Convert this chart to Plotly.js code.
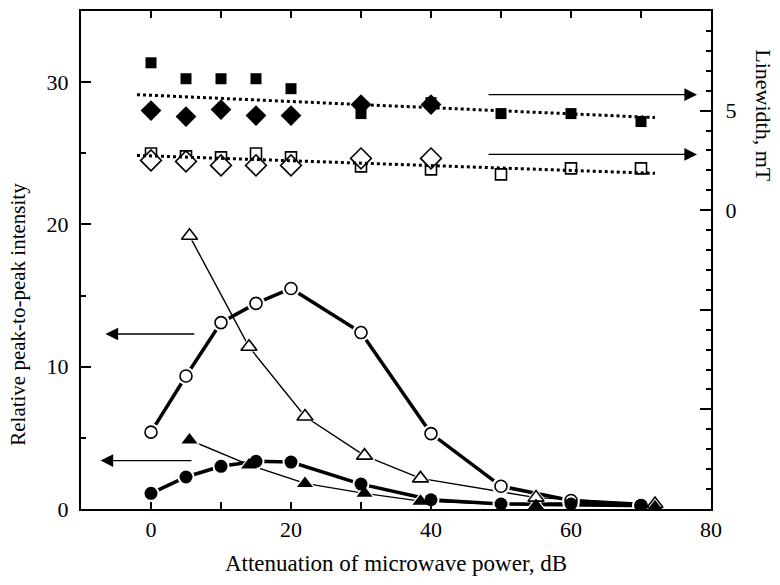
<!DOCTYPE html>
<html>
<head>
<meta charset="utf-8">
<script src="https://cdn.plot.ly/plotly-3.0.1.min.js"></script>
<style>html,body{margin:0;padding:0;background:#fff;}#chart{width:780px;height:585px;}</style>
</head>
<body>
<div id="chart"></div>
<script>
// ---- data (left axis: relative peak-to-peak intensity) ----
const xCircle = [0, 5, 10, 15, 20, 30, 40, 50, 60, 70];
const openCircle = [5.4, 9.35, 13.1, 14.45, 15.5, 12.4, 5.3, 1.6, 0.6, 0.25];
const filledCircle = [1.1, 2.25, 3.0, 3.35, 3.3, 1.75, 0.65, 0.35, 0.35, 0.25];
const xTriangle = [5.5, 14, 22, 30.5, 38.5, 55, 72];
const openTriangle = [19.2, 11.4, 6.5, 3.75, 2.15, 0.8, 0.35];
const filledTriangle = [4.85, 3.1, 1.8, 1.1, 0.55, 0.25, 0.15];
// ---- data (right axis: linewidth, mT) ----
const xSquare = [0, 5, 10, 15, 20, 30, 40, 50, 60, 70];
const filledSquare = [7.4, 6.6, 6.6, 6.6, 6.1, 4.85, 5.4, 4.85, 4.85, 4.45];
const openSquare = [2.85, 2.7, 2.65, 2.85, 2.65, 2.2, 2.05, 1.8, 2.1, 2.1];
const xDiamond = [0, 5, 10, 15, 20, 30, 40];
const filledDiamond = [5.0, 4.7, 5.05, 4.75, 4.75, 5.3, 5.3];
const openDiamond = [2.5, 2.45, 2.25, 2.25, 2.25, 2.6, 2.6];
const xFit = [-2, 72];
const fitUpper = [5.8, 4.65];
const fitLower = [2.75, 1.85];
// ---- axis ticks ----
const xTickVals = [0, 10, 20, 30, 40, 50, 60, 70, 80];
const xTickText = ['0', '', '20', '', '40', '', '60', '', '80'];
const yTickVals = [0, 10, 20, 30];
const y2TickVals = [-10, -5, 0, 5, 10];
const y2TickText = ['', '', '0', '5', '10'];

const FONT = 'Liberation Serif, Times New Roman, serif';
const traces = [];

function lineTrace(x, y, w) {
  return {x: x, y: y, mode: 'lines', yaxis: 'y', line: {color: 'black', width: w}, hoverinfo: 'skip', showlegend: false};
}
function haloTrace(x, y, sym, size) {
  return {x: x, y: y, mode: 'markers', yaxis: 'y', marker: {symbol: sym, size: size, color: 'white', line: {width: 0}}, hoverinfo: 'skip', showlegend: false};
}
function markerTrace(x, y, sym, size, filled, axis) {
  return {x: x, y: y, mode: 'markers', yaxis: axis || 'y',
    marker: {symbol: sym, size: size, color: filled ? 'black' : 'white', line: {color: 'black', width: filled ? 0 : 1.6}},
    showlegend: false};
}

// connecting lines
traces.push(lineTrace(xCircle, openCircle, 3.5));
traces.push(lineTrace(xCircle, filledCircle, 3.5));
traces.push(lineTrace(xTriangle, openTriangle, 1.4));
traces.push(lineTrace(xTriangle, filledTriangle, 1.4));
// white halos give the small gaps between lines and markers
traces.push(haloTrace(xCircle, openCircle, 'circle', 18));
traces.push(haloTrace(xCircle, filledCircle, 'circle', 17));
traces.push(haloTrace(xTriangle, openTriangle, 'triangle-up', 19));
traces.push(haloTrace(xTriangle, filledTriangle, 'triangle-up', 18));
// markers
traces.push(markerTrace(xTriangle, openTriangle, 'triangle-up', 14, false));
traces.push(markerTrace(xTriangle, filledTriangle, 'triangle-up', 14, true));
traces.push(markerTrace(xCircle, openCircle, 'circle', 12, false));
traces.push(markerTrace(xCircle, filledCircle, 'circle', 13, true));

// right axis series
traces.push(markerTrace(xSquare, filledSquare, 'square', 11, true, 'y2'));
traces.push(markerTrace(xSquare, openSquare, 'square', 11, false, 'y2'));
traces.push(markerTrace(xDiamond, filledDiamond, 'diamond', 16, true, 'y2'));
traces.push(markerTrace(xDiamond, openDiamond, 'diamond', 16, false, 'y2'));
traces.push({x: xFit, y: fitUpper, mode: 'lines', yaxis: 'y2', line: {color: 'black', width: 3, dash: '3px,3px'}, showlegend: false, hoverinfo: 'skip'});
traces.push({x: xFit, y: fitLower, mode: 'lines', yaxis: 'y2', line: {color: 'black', width: 3, dash: '3px,3px'}, showlegend: false, hoverinfo: 'skip'});

function arrow(tipX, tipY, tailX, tailY, yref) {
  return {x: tipX, y: tipY, ax: tailX, ay: tailY, xref: 'x', yref: yref, axref: 'x', ayref: yref,
    text: '', showarrow: true, arrowhead: 2, arrowsize: 1.8, arrowwidth: 1.4, arrowcolor: 'black'};
}

const layout = {
  width: 780, height: 585,
  margin: {l: 81, r: 69, t: 11, b: 76},
  paper_bgcolor: 'white', plot_bgcolor: 'white',
  font: {family: FONT, size: 22, color: 'black'},
  showlegend: false,
  xaxis: {
    range: [-10, 80], tickmode: 'array', tickvals: xTickVals, ticktext: xTickText,
    ticks: 'inside', ticklen: 7, tickwidth: 2, tickcolor: 'black',
    showline: true, linewidth: 2, linecolor: 'black', mirror: 'ticks',
    showgrid: false, zeroline: false,
    tickfont: {family: FONT, size: 22},
    title: {text: 'Attenuation of microwave power, dB', font: {family: FONT, size: 23}, standoff: 13}
  },
  yaxis: {
    range: [0, 35], tickmode: 'array', tickvals: yTickVals,
    ticks: 'inside', ticklen: 10, tickwidth: 2, tickcolor: 'black',
    minor: {dtick: 5, ticks: 'inside', ticklen: 5, tickwidth: 2, tickcolor: 'black'},
    showline: true, linewidth: 2, linecolor: 'black', mirror: true,
    showgrid: false, zeroline: false, ticklabelstandoff: 6,
    tickfont: {family: FONT, size: 22}
  },
  yaxis2: {
    overlaying: 'y', side: 'right', range: [-15, 10],
    tickmode: 'array', tickvals: y2TickVals, ticktext: y2TickText,
    ticks: 'inside', ticklen: 11, tickwidth: 2, tickcolor: 'black',
    minor: {dtick: 1, ticks: 'inside', ticklen: 5, tickwidth: 2, tickcolor: 'black'},
    showline: true, linewidth: 2, linecolor: 'black',
    showgrid: false, zeroline: false, ticklabelstandoff: 8,
    tickfont: {family: FONT, size: 22}
  },
  annotations: [
    {text: 'Relative peak-to-peak intensity', textangle: -90, xref: 'paper', yref: 'paper',
     x: -0.1, y: 0.39, xanchor: 'center', yanchor: 'middle', showarrow: false, font: {family: FONT, size: 21}},
    {text: 'Linewidth, mT', textangle: 90, xref: 'paper', yref: 'paper',
     x: 1.083, y: 0.79, xanchor: 'center', yanchor: 'middle', showarrow: false, font: {family: FONT, size: 22}},
    arrow(78, 5.8, 48, 5.8, 'y2'),
    arrow(78, 2.8, 48, 2.8, 'y2'),
    arrow(-6.5, 12.3, 6.4, 12.3, 'y'),
    arrow(-7.2, 3.4, 6.0, 3.4, 'y')
  ]
};

Plotly.newPlot('chart', traces, layout, {staticPlot: true, displayModeBar: false});
</script>
</body>
</html>
